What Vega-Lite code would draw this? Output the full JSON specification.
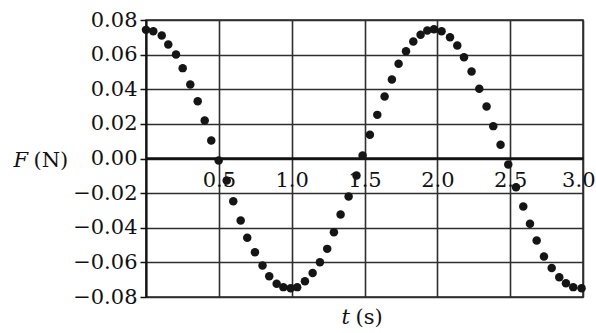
{
  "$schema": "https://vega.github.io/schema/vega-lite/v6.json",
  "autosize": {"type": "none"},
  "padding": {"left": 146, "top": 20, "right": 13, "bottom": 36},
  "width": 437,
  "height": 277,
  "background": "#ffffff",
  "config": {
    "view": {"stroke": "#222222", "strokeWidth": 1.5},
    "font": "DejaVu Serif",
    "axis": {
      "labelFont": "DejaVu Serif",
      "labelFontSize": 21,
      "labelColor": "#111111",
      "titleFont": "DejaVu Serif",
      "titleFontSize": 21,
      "titleFontWeight": "normal",
      "titleColor": "#111111",
      "gridColor": "#2e2e2e",
      "gridWidth": 1.6,
      "gridOpacity": 1,
      "domainColor": "#111111",
      "tickColor": "#111111"
    }
  },
  "data": {
    "values": [
      {"t": 0.000, "F": 0.0743},
      {"t": 0.050, "F": 0.0735},
      {"t": 0.108, "F": 0.0711},
      {"t": 0.153, "F": 0.0659},
      {"t": 0.206, "F": 0.0601},
      {"t": 0.252, "F": 0.0522},
      {"t": 0.304, "F": 0.0427},
      {"t": 0.355, "F": 0.0331},
      {"t": 0.403, "F": 0.0220},
      {"t": 0.448, "F": 0.0104},
      {"t": 0.499, "F": -0.0012},
      {"t": 0.554, "F": -0.0127},
      {"t": 0.599, "F": -0.0247},
      {"t": 0.650, "F": -0.0358},
      {"t": 0.695, "F": -0.0458},
      {"t": 0.748, "F": -0.0541},
      {"t": 0.800, "F": -0.0618},
      {"t": 0.846, "F": -0.0680},
      {"t": 0.897, "F": -0.0724},
      {"t": 0.943, "F": -0.0743},
      {"t": 0.993, "F": -0.0749},
      {"t": 1.038, "F": -0.0743},
      {"t": 1.091, "F": -0.0709},
      {"t": 1.144, "F": -0.0662},
      {"t": 1.194, "F": -0.0599},
      {"t": 1.244, "F": -0.0522},
      {"t": 1.290, "F": -0.0426},
      {"t": 1.336, "F": -0.0324},
      {"t": 1.391, "F": -0.0220},
      {"t": 1.445, "F": -0.0098},
      {"t": 1.487, "F": 0.0017},
      {"t": 1.537, "F": 0.0137},
      {"t": 1.588, "F": 0.0252},
      {"t": 1.638, "F": 0.0358},
      {"t": 1.688, "F": 0.0456},
      {"t": 1.734, "F": 0.0547},
      {"t": 1.785, "F": 0.0620},
      {"t": 1.835, "F": 0.0676},
      {"t": 1.885, "F": 0.0715},
      {"t": 1.931, "F": 0.0739},
      {"t": 1.977, "F": 0.0747},
      {"t": 2.029, "F": 0.0735},
      {"t": 2.087, "F": 0.0701},
      {"t": 2.137, "F": 0.0653},
      {"t": 2.183, "F": 0.0585},
      {"t": 2.235, "F": 0.0503},
      {"t": 2.288, "F": 0.0403},
      {"t": 2.338, "F": 0.0300},
      {"t": 2.384, "F": 0.0187},
      {"t": 2.434, "F": 0.0079},
      {"t": 2.487, "F": -0.0035},
      {"t": 2.540, "F": -0.0166},
      {"t": 2.590, "F": -0.0277},
      {"t": 2.636, "F": -0.0377},
      {"t": 2.682, "F": -0.0474},
      {"t": 2.732, "F": -0.0566},
      {"t": 2.785, "F": -0.0632},
      {"t": 2.837, "F": -0.0686},
      {"t": 2.883, "F": -0.0720},
      {"t": 2.933, "F": -0.0743},
      {"t": 2.990, "F": -0.0749}
    ]
  },
  "resolve": {"axis": {"x": "independent", "y": "independent"}},
  "layer": [
    {
      "mark": {"type": "point", "filled": true, "size": 72, "color": "#151515", "opacity": 1},
      "encoding": {
        "x": {
          "field": "t",
          "type": "quantitative",
          "scale": {"domain": [0, 3], "nice": false, "zero": false},
          "axis": {
            "orient": "bottom",
            "offset": -139,
            "values": [0.5, 1, 1.5, 2, 2.5, 3],
            "format": ".1f",
            "ticks": false,
            "labelPadding": 11,
            "labelFlush": 1,
            "labelFlushOffset": 12,
            "labelOverlap": false,
            "labelBound": false,
            "domainWidth": 2.4,
            "grid": true,
            "title": "t",
            "titleFontStyle": "italic",
            "titleAlign": "left",
            "titleBaseline": "alphabetic",
            "titleAnchor": "start",
            "titleX": 195,
            "titleY": 165
          }
        },
        "y": {
          "field": "F",
          "type": "quantitative",
          "scale": {"domain": [-0.08, 0.08], "nice": false, "zero": false},
          "axis": {
            "orient": "left",
            "values": [-0.08, -0.06, -0.04, -0.02, 0, 0.02, 0.04, 0.06, 0.08],
            "format": ".2f",
            "tickSize": 6,
            "tickWidth": 1.5,
            "labelPadding": 3,
            "labelOverlap": false,
            "labelBound": false,
            "labelFlush": false,
            "domainWidth": 2.2,
            "grid": true,
            "title": "F",
            "titleFontStyle": "italic",
            "titleAngle": 0,
            "titleAlign": "left",
            "titleBaseline": "alphabetic",
            "titleAnchor": "start",
            "titleX": -133,
            "titleY": 146
          }
        }
      }
    },
    {
      "mark": {"type": "point", "opacity": 0},
      "encoding": {
        "x": {
          "field": "t",
          "type": "quantitative",
          "axis": {
            "orient": "bottom",
            "labels": false,
            "ticks": false,
            "domain": false,
            "grid": false,
            "title": "(s)",
            "titleAlign": "left",
            "titleBaseline": "alphabetic",
            "titleAnchor": "start",
            "titleX": 209,
            "titleY": 26
          }
        },
        "y": {
          "field": "F",
          "type": "quantitative",
          "axis": {
            "orient": "left",
            "labels": false,
            "ticks": false,
            "domain": false,
            "grid": false,
            "title": "(N)",
            "titleAngle": 0,
            "titleAlign": "left",
            "titleBaseline": "alphabetic",
            "titleAnchor": "start",
            "titleX": -113,
            "titleY": 146
          }
        }
      }
    }
  ]
}
